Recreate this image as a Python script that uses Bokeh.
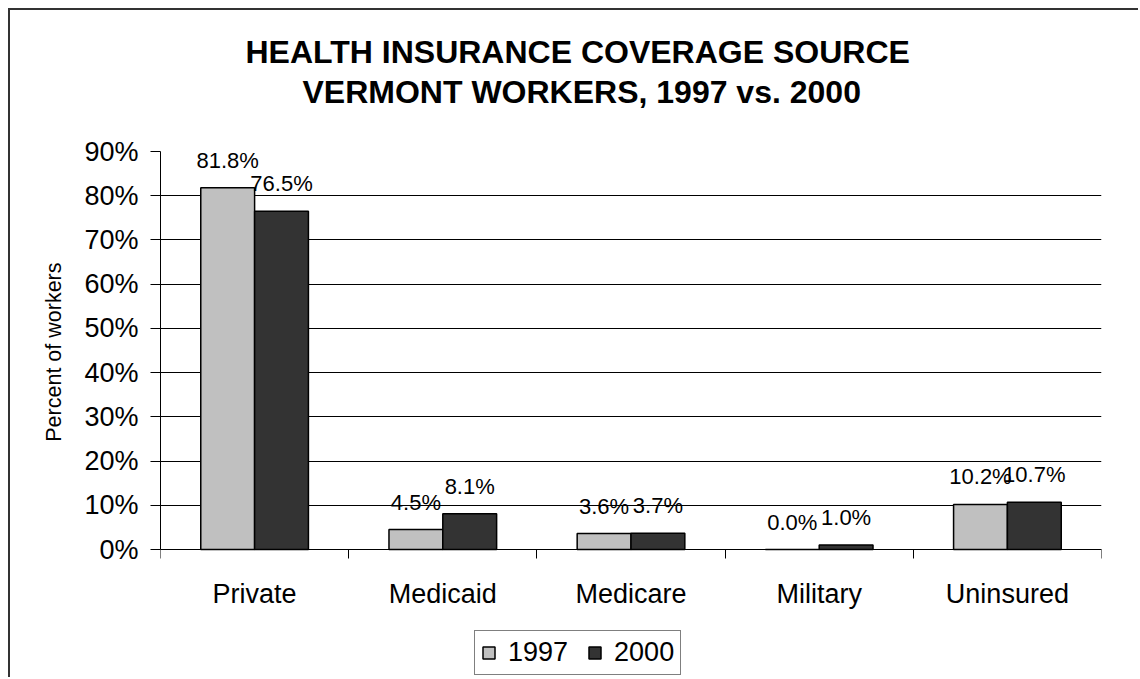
from bokeh.plotting import figure
from bokeh.models import (ColumnDataSource, Range1d, FixedTicker, Legend, LegendItem,
                          LabelSet, Title, PrintfTickFormatter, Grid)
from bokeh.core.properties import value
from bokeh.transform import dodge
from bokeh.embed import file_html
from bokeh.resources import INLINE

# ---- data ----
categories = ["Private", "Medicaid", "Medicare", "Military", "Uninsured"]
series_names = ["1997", "2000"]
values_1997 = [81.8, 4.5, 3.6, 0.0, 10.2]
values_2000 = [76.5, 8.1, 3.7, 1.0, 10.7]
y_ticks = [0, 10, 20, 30, 40, 50, 60, 70, 80, 90]
title_lines = ["HEALTH INSURANCE COVERAGE SOURCE", "VERMONT WORKERS, 1997 vs. 2000"]
y_label = "Percent of workers"
colors = ["#C0C0C0", "#333333"]

FONT = "Liberation Sans"
BAR_W = 0.286
OFF = BAR_W / 2

# layout: plot area spans 398 px for the value axis; 130 px below zero hold labels + legend
PX_PER_UNIT = 398 / (y_ticks[-1] - y_ticks[0])
Y_BOTTOM = y_ticks[0] - 130 / PX_PER_UNIT

pos = [i + 0.5 for i in range(len(categories))]
src = ColumnDataSource(dict(
    pos=pos, cat=categories,
    v1997=values_1997, v2000=values_2000,
    l1997=[f"{v:.1f}%" for v in values_1997],
    l2000=[f"{v:.1f}%" for v in values_2000],
))

p = figure(width=1130, height=669, title=None,
           x_range=Range1d(0, len(categories)), y_range=Range1d(Y_BOTTOM, y_ticks[-1]),
           output_backend="svg", toolbar_location=None,
           min_border_left=150, min_border_top=141, min_border_right=39, min_border_bottom=0,
           background_fill_color="white", border_fill_color="white")
p.styles = {"margin-left": "8px", "margin-top": "8px",
            "border-left": "2px solid #333333", "border-top": "2px solid #333333"}
p.outline_line_color = None

r1 = p.vbar(x=dodge("pos", -OFF), top="v1997", width=BAR_W, source=src,
            fill_color=colors[0], line_color="black", line_width=1.5)
r2 = p.vbar(x=dodge("pos", OFF), top="v2000", width=BAR_W, source=src,
            fill_color=colors[1], line_color="black", line_width=1.5)

for xf, (vf, lf) in ((dodge("pos", -OFF), ("v1997", "l1997")), (dodge("pos", OFF), ("v2000", "l2000"))):
    ls = LabelSet(x=xf, y=vf, text=lf, source=src, y_offset=20,
                  text_align="center", text_baseline="alphabetic",
                  text_font=value(FONT), text_font_size="22px", text_color="black")
    p.add_layout(ls)

# grid: black value gridlines, grey plot-area border on top and right
p.xgrid.visible = False
p.ygrid.ticker = FixedTicker(ticks=y_ticks[:-1])
p.ygrid.grid_line_color = "black"
p.ygrid.grid_line_width = 1
p.add_layout(Grid(dimension=1, ticker=FixedTicker(ticks=[y_ticks[-1]]),
                  grid_line_color="#808080", grid_line_width=2))
p.add_layout(Grid(dimension=0, ticker=FixedTicker(ticks=[len(categories)]),
                  bounds=(y_ticks[0], y_ticks[-1]),
                  grid_line_color="#808080", grid_line_width=3))

# y axis
ya = p.yaxis[0]
ya.bounds = (y_ticks[0], y_ticks[-1])
ya.ticker = FixedTicker(ticks=y_ticks)
ya.formatter = PrintfTickFormatter(format="%d%%")
ya.major_label_text_font = FONT
ya.major_label_text_font_size = "27px"
ya.major_label_text_color = "black"
ya.major_tick_out = 10
ya.major_tick_in = 0
ya.major_tick_line_color = "black"
ya.minor_tick_line_color = None
ya.major_label_standoff = 12
ya.axis_line_color = "black"
ya.axis_line_width = 1

# y axis title, centred on the 0-90% span (placed as a rotated side title)
ytitle = Title(text=y_label, align="right", offset=111, text_font=FONT,
               text_font_size="21.5px", text_font_style="normal", text_color="black",
               standoff=32)
p.add_layout(ytitle, "left")

# x axis at zero: labels at category centers, tick marks at boundaries
xa = p.xaxis[0]
xa.fixed_location = y_ticks[0]
xa.ticker = FixedTicker(ticks=pos, minor_ticks=list(range(len(categories) + 1)))
xa.major_label_overrides = {x: c for x, c in zip(pos, categories)}
xa.major_label_text_font = FONT
xa.major_label_text_font_size = "27px"
xa.major_label_text_color = "black"
xa.major_tick_out = 0
xa.major_tick_in = 0
xa.minor_tick_out = 9
xa.minor_tick_in = 0
xa.minor_tick_line_color = "black"
xa.major_label_standoff = 20
xa.axis_line_color = "black"
xa.axis_line_width = 1

# titles (stacked outward from the plot area: spacer, line 2, line 1)
spacer = Title(text=" ", text_font_size="10px", standoff=28)
t2 = Title(text=title_lines[1], align="left", offset=142, text_font=FONT,
           text_font_size="32px", text_font_style="bold", text_color="black", standoff=2)
t1 = Title(text=title_lines[0], align="left", offset=85, text_font=FONT,
           text_font_size="32px", text_font_style="bold", text_color="black", standoff=2)
p.add_layout(spacer, "above")
p.add_layout(t2, "above")
p.add_layout(t1, "above")

legend = Legend(items=[LegendItem(label=series_names[0], renderers=[r1]),
                       LegendItem(label=series_names[1], renderers=[r2])],
                orientation="horizontal", location=(314, 4),
                border_line_color="black", border_line_width=1,
                padding=6, spacing=19, label_standoff=12,
                glyph_width=15, glyph_height=15, margin=0,
                label_text_font=FONT, label_text_font_size="27px", label_text_color="black",
                background_fill_color="white", background_fill_alpha=1)
p.add_layout(legend, "center")

open("out.html", "w").write(file_html(p, INLINE))
